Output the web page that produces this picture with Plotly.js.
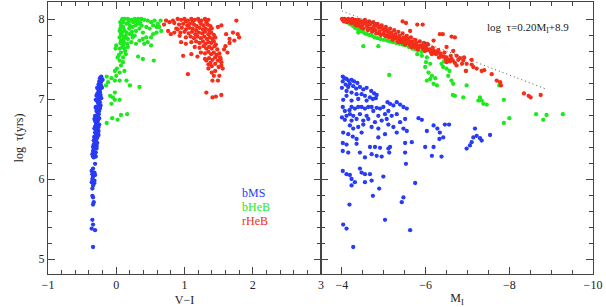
<!DOCTYPE html>
<html><head><meta charset="utf-8">
<script src="https://cdn.plot.ly/plotly-3.0.1.min.js"></script>
<style>body{margin:0;background:#fff}</style>
</head><body><div id="chart" style="width:606px;height:307px"></div>
<script>
// bMS stars: [log age, M_I, V-I]
const bMS = [
[7.28,-4.02,-0.22],[7.26,-4.06,-0.24],[7.25,-4.11,-0.21],[7.22,-4.02,-0.25],[7.23,-4.16,-0.23],[7.24,-4.23,-0.20],
[7.22,-4.29,-0.22],[7.18,-4.09,-0.26],[7.19,-4.19,-0.23],[7.15,-4.15,-0.25],[7.16,-4.27,-0.22],[7.20,-4.37,-0.24],
[7.13,-4.34,-0.27],[7.15,-4.43,-0.23],[7.12,-4.51,-0.25],[7.14,-4.59,-0.21],[7.10,-4.70,-0.24],[7.07,-4.77,-0.27],
[7.05,-4.83,-0.23],[7.14,-4.00,-0.28],[7.10,-4.11,-0.26],[7.08,-4.23,-0.24],[7.06,-4.35,-0.28],[7.06,-4.47,-0.25],
[7.04,-4.55,-0.27],[7.02,-4.67,-0.24],[7.00,-4.74,-0.26],[7.01,-4.81,-0.22],[7.04,-4.11,-0.29],[6.98,-4.23,-0.27],
[6.99,-4.03,-0.30],[7.00,-4.39,-0.25],[6.98,-4.59,-0.28],[6.96,-5.09,-0.24],[6.94,-5.15,-0.26],[6.92,-5.23,-0.23],
[6.96,-5.31,-0.27],[6.93,-5.39,-0.25],[6.90,-5.47,-0.28],[6.88,-5.55,-0.24],[6.85,-5.11,-0.29],[6.90,-4.99,-0.26],
[6.88,-4.91,-0.27],[6.89,-4.83,-0.30],[6.90,-4.71,-0.25],[6.90,-4.63,-0.28],[6.88,-4.55,-0.26],[6.90,-4.47,-0.29],
[6.90,-4.39,-0.24],[6.88,-4.31,-0.27],[6.90,-4.23,-0.30],[6.86,-4.18,-0.26],[6.85,-4.07,-0.28],[6.90,-4.02,-0.25],
[6.79,-4.11,-0.29],[6.81,-4.19,-0.27],[6.79,-4.27,-0.31],[6.81,-4.43,-0.26],[6.79,-4.59,-0.28],[6.85,-4.75,-0.25],
[6.79,-4.87,-0.30],[6.81,-5.03,-0.27],[6.79,-5.19,-0.29],[6.81,-5.31,-0.26],[6.75,-5.51,-0.28],[6.71,-5.39,-0.30],
[6.75,-5.07,-0.27],[6.73,-4.95,-0.31],[6.71,-4.79,-0.28],[6.75,-4.63,-0.26],[6.73,-4.51,-0.29],[6.75,-4.35,-0.32],
[6.73,-4.23,-0.27],[6.74,-4.07,-0.30],[6.77,-4.00,-0.28],[6.76,-5.83,-0.25],[6.74,-5.91,-0.27],[6.67,-4.19,-0.30],
[6.63,-4.27,-0.28],[6.65,-4.39,-0.31],[6.68,-4.51,-0.27],[6.65,-4.71,-0.29],[6.63,-4.87,-0.32],[6.68,-5.11,-0.28],
[6.65,-5.23,-0.26],[6.63,-5.47,-0.30],[6.58,-4.03,-0.31],[6.56,-4.15,-0.29],[6.53,-4.26,-0.32],[6.50,-4.35,-0.30],
[6.58,-4.47,-0.27],[6.52,-4.87,-0.31],[6.56,-5.03,-0.28],[6.58,-5.31,-0.30],[6.60,-5.55,-0.26],[6.60,-6.03,-0.29],
[6.67,-6.19,-0.27],[6.63,-6.28,-0.30],[6.58,-6.34,-0.28],[6.68,-6.46,-0.25],[6.68,-6.56,-0.29],[6.52,-6.42,-0.32],
[6.50,-6.33,-0.29],[6.63,-7.18,-0.31],[6.54,-7.22,-0.27],[6.51,-7.30,-0.30],[6.48,-7.34,-0.33],[6.52,-7.14,-0.28],
[6.46,-7.10,-0.31],[6.42,-7.06,-0.29],[6.55,-7.54,-0.26],[6.38,-6.98,-0.32],[6.45,-4.02,-0.30],[6.43,-4.11,-0.33],
[6.44,-4.35,-0.31],[6.40,-4.67,-0.29],[6.40,-4.79,-0.32],[6.39,-4.91,-0.30],[6.40,-5.15,-0.34],[6.33,-5.13,-0.31],
[6.45,-5.51,-0.28],[6.46,-5.67,-0.30],[6.40,-5.99,-0.33],[6.40,-6.19,-0.31],[6.35,-4.02,-0.34],[6.33,-4.15,-0.32],
[6.33,-4.43,-0.30],[6.27,-4.55,-0.33],[6.31,-4.71,-0.35],[6.29,-4.83,-0.31],[6.28,-4.95,-0.34],[6.38,-5.11,-0.29],
[6.29,-6.15,-0.32],[6.28,-6.38,-0.30],[6.33,-5.51,-0.33],[6.19,-5.53,-0.31],[6.13,-4.43,-0.34],[6.08,-4.47,-0.32],
[6.06,-4.55,-0.35],[6.06,-4.67,-0.33],[6.10,-4.02,-0.36],[6.06,-4.11,-0.34],[6.05,-4.19,-0.31],[6.00,-4.23,-0.35],
[5.96,-4.31,-0.33],[5.96,-4.55,-0.36],[5.98,-4.71,-0.32],[6.03,-4.99,-0.34],[5.92,-4.23,-0.34],[5.88,-4.89,-0.35],
[5.95,-5.75,-0.32],[5.77,-5.47,-0.34],[5.71,-5.43,-0.33],[5.79,-4.74,-0.35],[5.68,-4.18,-0.34],[5.49,-5.03,-0.35],
[5.43,-4.03,-0.34],[5.38,-4.11,-0.36],[5.36,-5.63,-0.31],[5.15,-4.27,-0.34]
];

// bHeB, left panel: [V-I, log age]
const bHeB_left = [
[-0.14,6.70],[-0.06,6.76],[0.02,6.74],[0.07,6.80],[0.16,6.81],[-0.07,6.94],[-0.02,6.99],[-0.09,7.04],[-0.05,7.02],
[0.05,6.99],[-0.02,7.08],[-0.15,7.17],[-0.12,7.21],[-0.14,7.28],[-0.07,7.26],[-0.02,7.23],[0.05,7.23],[0.15,7.23],
[0.20,7.17],[0.00,7.29],[-0.02,7.35],[0.01,7.38],[0.05,7.33],[0.07,7.42],[0.10,7.46],[0.12,7.35],[0.05,7.48],
[0.10,7.52],[0.14,7.56],[0.32,7.53],[0.39,7.50],[0.55,7.48],[0.34,7.15],
[0.09,8.00],[0.12,8.00],[0.17,8.00],[0.22,7.99],[0.27,8.00],[0.32,8.00],[0.37,8.00],[0.41,7.99],[0.46,7.98],
[0.51,7.96],[0.56,7.98],[0.61,7.94],[0.63,7.90],[0.66,7.85],[0.59,7.83],[0.54,7.81],[0.44,7.77],[0.39,7.75],
[0.34,7.73],[0.29,7.69],[0.22,7.71],[0.17,7.75],[0.12,7.77],[0.07,7.81],[0.05,7.85],[0.10,7.90],[0.15,7.94],
[0.20,7.92],[0.24,7.90],[0.29,7.85],[0.34,7.88],[0.39,7.83],[0.44,7.90],[0.49,7.88],[0.54,7.92],[0.07,7.73],
[0.10,7.67],[0.05,7.63],[0.12,7.63],[0.17,7.65],[0.22,7.81],[0.27,7.79],[0.32,7.94],[0.37,7.92],[0.41,7.69],
[0.46,7.71],[0.51,7.67],[0.00,7.67],[-0.01,7.63],[0.06,7.96],[0.07,7.92],[0.15,7.83],[0.20,7.81],[0.24,7.77],
[0.05,7.77],[0.11,7.71],[0.16,7.69],[0.65,7.98],[0.59,7.90],[0.51,7.77],
[0.08,7.98],[0.10,7.96],[0.06,7.88],[0.09,7.84],[0.12,7.86],[0.08,7.80],[0.11,7.75],[0.06,7.70],[0.09,7.65],
[0.13,7.60],[0.07,7.58],[0.04,7.55],[0.02,7.52],[0.14,7.79],[0.18,7.96],[0.25,7.96],[0.30,7.97],[0.35,7.96],
[0.28,7.92],[0.19,7.88],[0.23,7.84]
];

// bHeB, right panel: [M_I, log age]
const bHeB_right = [
[-4.02,8.00],[-4.05,7.99],[-4.08,7.97],[-4.12,7.96],[-4.18,7.94],[-4.22,7.93],[-4.27,7.91],[-4.31,7.89],[-4.36,7.88],
[-4.40,7.86],[-4.45,7.85],[-4.50,7.84],[-4.55,7.82],[-4.60,7.81],[-4.66,7.80],[-4.72,7.79],[-4.78,7.77],[-4.85,7.76],
[-4.92,7.75],[-5.00,7.74],[-5.08,7.73],[-5.15,7.72],[-5.22,7.71],[-5.30,7.70],[-5.38,7.69],[-5.45,7.68],[-5.52,7.67],
[-5.60,7.65],[-5.68,7.63],[-5.75,7.62],[-5.82,7.61],[-5.90,7.59],
[-4.39,7.83],[-4.51,7.66],[-4.87,7.66],[-5.13,7.30],
[-5.80,7.56],[-5.91,7.54],[-6.03,7.52],[-6.01,7.46],[-6.11,7.44],[-5.99,7.40],[-6.07,7.33],[-6.15,7.29],[-6.03,7.23],
[-6.11,7.25],[-6.23,7.26],[-6.19,7.19],[-6.27,7.17],[-6.38,7.44],[-6.42,7.40],[-6.50,7.38],[-6.57,7.35],[-6.54,7.29],
[-6.62,7.23],[-6.66,7.19],[-6.44,7.47],[-6.65,7.05],[-6.70,7.04],[-6.90,7.02],[-7.30,7.02],[-7.34,6.98],[-7.38,6.94],
[-7.46,6.93],[-7.26,6.98],[-6.97,7.35],[-6.98,7.17],[-7.76,7.17],[-7.87,6.99],[-8.00,6.76],[-7.87,6.70],[-8.64,6.81],
[-8.89,6.80],[-9.28,6.81],[-8.81,6.74]
];

// rHeB, left panel: [V-I, log age]
const rHeB_left = [
[0.90,8.00],[0.95,7.99],[1.00,8.00],[1.05,7.98],[1.10,8.00],[1.15,7.99],[1.20,8.00],[1.25,7.98],[1.30,8.00],[1.35,7.99],
[1.02,7.97],[1.12,7.97],[1.22,7.97],[1.32,7.96],
[0.85,7.95],[0.92,7.93],[0.98,7.94],[1.04,7.92],[1.08,7.94],[1.14,7.93],[1.18,7.91],[1.24,7.94],[1.28,7.92],[1.34,7.93],[1.38,7.91],
[0.88,7.88],[0.96,7.89],[1.02,7.87],[1.07,7.89],[1.12,7.88],[1.17,7.86],[1.22,7.89],[1.27,7.87],[1.31,7.88],[1.36,7.86],[1.40,7.88],
[0.94,7.83],[1.00,7.84],[1.06,7.82],[1.11,7.84],[1.16,7.81],[1.21,7.83],[1.26,7.82],[1.30,7.84],[1.35,7.81],[1.39,7.83],[1.43,7.80],
[1.02,7.77],[1.09,7.78],[1.14,7.76],[1.19,7.78],[1.24,7.76],[1.29,7.78],[1.33,7.75],[1.37,7.77],[1.41,7.75],[1.45,7.77],
[1.10,7.71],[1.17,7.72],[1.22,7.70],[1.27,7.72],[1.31,7.69],[1.35,7.71],[1.39,7.70],[1.43,7.72],[1.46,7.68],
[1.15,7.65],[1.22,7.64],[1.28,7.66],[1.32,7.63],[1.36,7.65],[1.40,7.63],[1.44,7.66],[1.48,7.62],
[1.24,7.58],[1.30,7.57],[1.35,7.59],[1.39,7.56],[1.43,7.58],[1.47,7.55],[1.51,7.57],
[1.30,7.50],[1.36,7.51],[1.41,7.49],[1.45,7.52],[1.49,7.48],[1.53,7.50],
[1.35,7.43],[1.40,7.41],[1.45,7.44],[1.50,7.40],[1.54,7.42],
[0.73,7.98],[0.78,7.96],[0.83,7.98],[0.76,7.85],[0.80,7.81],[0.85,7.83],[0.90,7.87],[0.93,7.79],[0.95,7.71],[0.98,7.54],
[1.05,7.31],[1.02,7.69],[1.32,7.48],[1.35,7.38],[1.40,7.33],[1.43,7.29],[1.41,7.23],[1.49,7.23],[1.51,7.29],[1.56,7.38],
[1.54,7.46],[1.52,7.52],[1.32,7.08],[1.41,7.02],[1.46,7.03],[1.54,7.05],[1.49,7.90],[1.54,7.92],[1.61,7.81],[1.66,7.75],
[1.71,7.83],[1.73,7.73],[1.78,7.81],[1.80,7.77],[1.76,7.98],[1.66,7.70],[1.63,7.58],[1.58,7.62],[1.60,7.66],[1.19,7.53],
[1.10,7.56],[0.70,7.93],[1.45,7.35],[1.38,7.45]
];

// rHeB, right panel: [M_I, log age]
const rHeB_right = [
[-4.00,8.00],[-4.03,7.98],[-4.06,8.00],[-4.10,7.99],[-4.12,7.96],[-4.15,8.00],[-4.18,7.97],[-4.20,7.99],[-4.22,7.95],[-4.25,8.00],
[-4.27,7.97],[-4.30,7.94],[-4.32,7.99],[-4.35,7.96],[-4.38,7.92],[-4.40,7.99],[-4.42,7.95],[-4.45,7.90],[-4.47,7.97],[-4.50,7.93],
[-4.52,7.88],[-4.55,7.99],[-4.57,7.95],[-4.60,7.91],[-4.62,7.86],[-4.65,7.97],[-4.67,7.93],[-4.70,7.88],[-4.72,7.84],[-4.75,7.96],
[-4.77,7.91],[-4.80,7.86],[-4.82,7.82],[-4.85,7.94],[-4.88,7.89],[-4.90,7.84],[-4.93,7.80],[-4.95,7.92],[-4.98,7.87],[-5.00,7.82],
[-5.03,7.79],[-5.05,7.90],[-5.08,7.85],[-5.10,7.80],[-5.13,7.77],[-5.15,7.88],[-5.18,7.83],[-5.20,7.78],[-5.23,7.75],[-5.25,7.86],
[-5.28,7.81],[-5.30,7.76],[-5.33,7.73],[-5.35,7.84],[-5.38,7.79],[-5.40,7.74],[-5.43,7.71],[-5.45,7.82],[-5.48,7.77],[-5.50,7.72],
[-5.53,7.69],[-5.55,7.79],[-5.58,7.75],[-5.60,7.70],[-5.63,7.67],[-5.65,7.77],[-5.68,7.72],[-5.70,7.68],[-5.73,7.65],[-5.75,7.74],
[-5.78,7.70],[-5.80,7.66],[-5.83,7.63],[-5.86,7.72],[-5.90,7.67],[-5.93,7.63],[-5.96,7.70],[-6.00,7.65],[-6.03,7.61],[-6.06,7.68],
[-6.10,7.62],[-6.13,7.58],[-6.17,7.64],[-6.20,7.60],[-6.25,7.56],[-6.30,7.61],[-6.35,7.57],[-6.40,7.53],[-6.45,7.58],[-6.50,7.52],
[-6.55,7.49],[-6.60,7.54],[-6.65,7.48],
[-4.05,7.97],[-4.13,7.98],[-4.21,7.97],[-4.28,7.99],[-4.36,7.98],[-4.44,7.96],[-4.52,7.97],[-4.61,7.96],[-4.69,7.95],[-4.78,7.94],
[-4.86,7.91],[-4.94,7.89],[-5.02,7.86],[-5.11,7.84],[-5.19,7.81],[-5.27,7.79],[-5.36,7.77],[-5.44,7.75],[-5.52,7.74],[-5.61,7.72],
[-5.69,7.70],[-5.77,7.68],[-5.85,7.66],[-5.94,7.65],[-6.02,7.63],[-6.11,7.60],[-6.19,7.58],[-6.27,7.58],[-6.36,7.55],[-6.44,7.53],
[-4.34,7.92],[-4.48,7.89],[-4.63,7.88],[-4.76,7.86],[-4.89,7.82],[-5.06,7.78],[-5.21,7.74],[-5.35,7.71],[-5.50,7.68],[-5.66,7.65],
[-5.81,7.62],[-5.98,7.60],[-6.15,7.56],[-6.32,7.52],[-6.48,7.50],[-6.58,7.47],[-6.70,7.45],[-6.78,7.49],[-6.87,7.44],[-6.92,7.52],
[-5.45,7.97],[-5.53,7.95],[-5.80,7.93],[-5.93,7.93],[-6.34,7.81],[-6.41,7.81],[-6.62,7.78],[-6.70,7.77],[-5.63,7.85],[-6.19,7.73],
[-6.03,7.69],[-6.50,7.65],[-6.66,7.60],
[-6.74,7.54],[-6.82,7.51],[-6.90,7.48],[-6.98,7.44],[-7.10,7.43],[-7.14,7.40],[-7.22,7.38],[-7.34,7.35],[-7.40,7.36],[-7.58,7.31],
[-7.70,7.23],[-7.78,7.21],[-7.80,7.17],[-8.35,7.07],[-8.46,7.04],[-8.51,7.02],[-8.75,7.05],[-6.50,7.46],[-6.62,7.50],[-6.74,7.42],
[-6.96,7.35],[-7.10,7.49]
];

// fitted relation log tau = 0.20 M_I + 8.9
const fitSlope = 0.20, fitIntercept = 8.9;
const fitMI = [-4.0, -8.9];
const fitAge = fitMI.map(m => fitSlope * m + fitIntercept);

const legendNames = ['bMS', 'bHeB', 'rHeB'];
const colors = {bMS: 'rgb(40,60,245)', bHeB: 'rgb(30,232,30)', rHeB: 'rgb(245,45,25)'};
const FONT = 'Liberation Serif, Times New Roman, serif';
const mk = c => ({color: c, size: 4.3, line: {width: 0}});

const traces = [
  {x: bMS.map(d => d[2]), y: bMS.map(d => d[0]), mode: 'markers', marker: mk(colors.bMS), xaxis: 'x', yaxis: 'y'},
  {x: bHeB_left.map(d => d[0]), y: bHeB_left.map(d => d[1]), mode: 'markers', marker: mk(colors.bHeB), xaxis: 'x', yaxis: 'y'},
  {x: rHeB_left.map(d => d[0]), y: rHeB_left.map(d => d[1]), mode: 'markers', marker: mk(colors.rHeB), xaxis: 'x', yaxis: 'y'},
  {x: bMS.map(d => d[1]), y: bMS.map(d => d[0]), mode: 'markers', marker: mk(colors.bMS), xaxis: 'x2', yaxis: 'y2'},
  {x: bHeB_right.map(d => d[0]), y: bHeB_right.map(d => d[1]), mode: 'markers', marker: mk(colors.bHeB), xaxis: 'x2', yaxis: 'y2'},
  {x: rHeB_right.map(d => d[0]), y: rHeB_right.map(d => d[1]), mode: 'markers', marker: mk(colors.rHeB), xaxis: 'x2', yaxis: 'y2'},
  {x: fitMI, y: fitAge, mode: 'lines', line: {color: '#555', width: 1, dash: '1px,3px'}, xaxis: 'x2', yaxis: 'y2'}
];

const axCommon = {
  showline: true, linecolor: '#444', linewidth: 1, mirror: 'ticks',
  ticks: 'inside', ticklen: 7, tickcolor: '#444', tickwidth: 1,
  showgrid: false, zeroline: false,
  tickfont: {family: FONT, size: 12, color: '#222'},
  minor: {ticks: 'inside', ticklen: 4, tickcolor: '#444', showgrid: false}
};
const YR = [4.8125, 8.2125];
const split = 273 / 545;

const layout = {
  width: 606, height: 307,
  margin: {l: 48, r: 13, t: 2, b: 33},
  paper_bgcolor: '#fff', plot_bgcolor: '#fff',
  showlegend: false,
  font: {family: FONT, size: 12, color: '#222'},
  xaxis: Object.assign({}, axCommon, {domain: [0, split], range: [-1, 3], tick0: 0, dtick: 1,
    minor: Object.assign({}, axCommon.minor, {dtick: 0.2}),
    title: {text: 'V\u2212I', font: {family: FONT, size: 12, color: '#222'}, standoff: 4}, anchor: 'y'}),
  yaxis: Object.assign({}, axCommon, {domain: [0, 1], range: YR, tick0: 0, dtick: 1,
    minor: Object.assign({}, axCommon.minor, {dtick: 0.2}),
    title: {text: 'log  \u03c4(yrs)', font: {family: FONT, size: 12, color: '#222'}, standoff: 12}, anchor: 'x'}),
  xaxis2: Object.assign({}, axCommon, {domain: [split, 1], range: [-3.5, -10], tick0: 0, dtick: 2,
    minor: Object.assign({}, axCommon.minor, {dtick: 0.5}),
    title: {text: 'M<sub>I</sub>', font: {family: FONT, size: 12, color: '#222'}, standoff: 4}, anchor: 'y2'}),
  yaxis2: Object.assign({}, axCommon, {domain: [0, 1], range: YR, tick0: 0, dtick: 1, showticklabels: false,
    minor: Object.assign({}, axCommon.minor, {dtick: 0.2}), anchor: 'x2'}),
  annotations: [
    {xref: 'x', yref: 'y', x: 1.81, y: 5.83, xanchor: 'left', yanchor: 'middle', showarrow: false, text: legendNames[0], font: {family: FONT, size: 12, color: colors.bMS}},
    {xref: 'x', yref: 'y', x: 1.81, y: 5.65, xanchor: 'left', yanchor: 'middle', showarrow: false, text: legendNames[1], font: {family: FONT, size: 12, color: colors.bHeB}},
    {xref: 'x', yref: 'y', x: 1.81, y: 5.47, xanchor: 'left', yanchor: 'middle', showarrow: false, text: legendNames[2], font: {family: FONT, size: 12, color: colors.rHeB}},
    {xref: 'x2', yref: 'y2', x: -7.42, y: 7.89, xanchor: 'left', yanchor: 'middle', showarrow: false,
     text: 'log  \u03c4=0.20M<sub>I</sub>+8.9', font: {family: FONT, size: 11, color: '#222'}}
  ]
};

Plotly.newPlot('chart', traces, layout, {displayModeBar: false, staticPlot: true});
</script>
</body></html>
